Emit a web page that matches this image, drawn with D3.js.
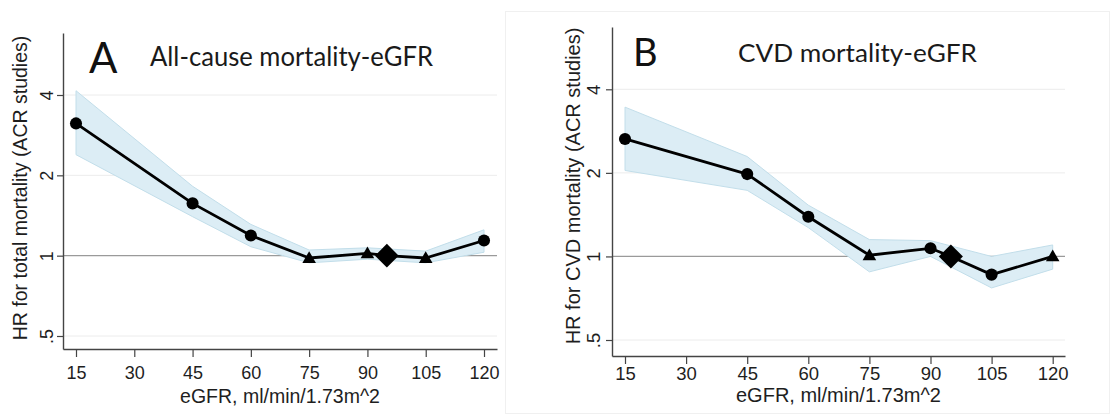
<!DOCTYPE html>
<html>
<head>
<meta charset="utf-8">
<script src="https://cdn.jsdelivr.net/npm/d3@7"></script>
<style>
  body { margin: 0; background: #fff; }
  svg { display: block; }
</style>
</head>
<body>
<svg id="chart" width="1110" height="414"></svg>
<script>
// 数据：eGFR 取值点（95 为参照点）
const egfr = [15, 45, 60, 75, 90, 95, 105, 120];
const ref_egfr = 95;

// A：全因死亡
const hr_A = [3.13, 1.57, 1.19, 0.98, 1.02, 1, 0.98, 1.14];
const lo_A = [2.39, 1.40, 1.08, 0.94, 0.97, 1, 0.94, 1.03];
const hi_A = [4.15, 1.82, 1.31, 1.05, 1.07, 1, 1.04, 1.25];
const marker_A = ["c", "c", "c", "t", "t", "d", "t", "c"];

// B：CVD 死亡
const hr_B = [2.65, 1.98, 1.39, 1.01, 1.07, 1, 0.86, 1.00];
const lo_B = [2.04, 1.73, 1.27, 0.88, 1.00, 1, 0.77, 0.90];
const hi_B = [3.45, 2.29, 1.53, 1.15, 1.14, 1, 1.00, 1.10];
const marker_B = ["c", "c", "c", "t", "c", "d", "c", "t"];

const x_ticks = [15, 30, 45, 60, 75, 90, 105, 120];
const y_ticks = [0.5, 1, 2, 4];
const y_tick_labels = [".5", "1", "2", "4"];
const x_title = "eGFR, ml/min/1.73m^2";

const svg = d3.select("#chart");

//构建比例尺：先按刻度位置定好，再延伸到坐标轴两端
function make_Scales(P) {
  const xScale = d3.scaleLinear().domain([15, 120]).range([P.x15, P.x120]);
  xScale.domain([xScale.invert(P.left), xScale.invert(P.right)]).range([P.left, P.right]);
  const yScale = d3.scaleLog().domain([0.5, 4]).range([P.y05, P.y4]);
  yScale.domain([yScale.invert(P.bottom), yScale.invert(P.top)]).range([P.bottom, P.top]);
  return [xScale, yScale];
}

//网格线和 HR=1 参考线
function draw_Grid(g, xScale, yScale) {
  const [x0, x1] = xScale.range();
  g.selectAll(".grid")
    .data(y_ticks)
    .enter()
    .append("line")
    .attr("class", "grid")
    .attr("x1", x0)
    .attr("x2", x1)
    .attr("y1", d => yScale(d))
    .attr("y2", d => yScale(d))
    .style("stroke", d => d === 1 ? "#9a9a9a" : "#ececec")
    .style("stroke-width", d => d === 1 ? 1.2 : 1);
}

//坐标轴
function draw_Axis(g, xScale, yScale, P) {
  const xAxis = d3.axisBottom(xScale)
    .tickValues(x_ticks)
    .tickSizeOuter(0)
    .tickSizeInner(8)
    .tickPadding(4);
  const yAxis = d3.axisLeft(yScale)
    .tickValues(y_ticks)
    .tickFormat((d, i) => y_tick_labels[i])
    .tickSizeOuter(0)
    .tickSizeInner(6);

  const gx = g.append("g")
    .attr("transform", `translate(0, ${P.bottom})`)
    .call(xAxis);
  gx.selectAll("text")
    .attr("y", null)
    .attr("dy", null)
    .attr("transform", `translate(0, ${P.xlab_y - P.bottom})`)
    .style("font-family", "'Liberation Sans', Arial, sans-serif")
    .style("font-size", P.tick_font + "px")
    .style("fill", "#1e1e1e");

  const gy = g.append("g")
    .attr("transform", `translate(${P.left}, 0)`)
    .call(yAxis);
  gy.selectAll("text")
    .attr("x", null)
    .attr("dy", null)
    .attr("text-anchor", "middle")
    .attr("transform", `translate(${P.ylab_x - P.left}, 0) rotate(-90)`)
    .style("font-family", "'Liberation Sans', Arial, sans-serif")
    .style("font-size", P.tick_font + "px")
    .style("fill", "#1e1e1e");

  g.selectAll(".domain").style("stroke", "#444").style("stroke-width", 1.4);
  g.selectAll(".tick line").style("stroke", "#444").style("stroke-width", 1.2);
}

//标题与坐标轴名称
function draw_Labels(g, P, xScale, yScale) {
  g.append("text")
    .attr("x", P.letter_x)
    .attr("y", P.letter_y)
    .text(P.letter)
    .style("font-family", "Lato, 'Open Sans', sans-serif")
    .style("font-size", P.letter_font + "px")
    .style("fill", "#111");

  g.append("text")
    .attr("x", P.title_x)
    .attr("y", P.title_y)
    .attr("textLength", P.title_len)
    .attr("lengthAdjust", "spacingAndGlyphs")
    .text(P.title)
    .style("font-family", "Lato, 'Open Sans', sans-serif")
    .style("font-size", P.title_font + "px")
    .style("fill", "#1a1a1a");

  const [x0, x1] = xScale.range();
  g.append("text")
    .attr("x", (x0 + x1) / 2)
    .attr("y", P.xtitle_y)
    .attr("text-anchor", "middle")
    .text(x_title)
    .style("font-family", "'Liberation Sans', Arial, sans-serif")
    .style("font-size", P.axis_font + "px")
    .style("fill", "#1e1e1e");

  g.append("text")
    .attr("transform", `translate(${P.ytitle_x}, ${P.ytitle_y}) rotate(-90)`)
    .attr("text-anchor", "middle")
    .text(P.ytitle)
    .style("font-family", "'Liberation Sans', Arial, sans-serif")
    .style("font-size", P.axis_font + "px")
    .style("fill", "#1e1e1e");
}

//置信区间、折线和标记点
function draw_Series(g, xScale, yScale, hr, lo, hi, marker, P) {
  const pts = egfr.map((e, i) => ({ e: e, hr: hr[i], lo: lo[i], hi: hi[i], m: marker[i] }));
  const band_pts = pts.filter(d => d.e !== ref_egfr);

  const area = d3.area()
    .x(d => xScale(d.e))
    .y0(d => yScale(d.lo))
    .y1(d => yScale(d.hi));
  g.append("path")
    .datum(band_pts)
    .attr("d", area)
    .style("fill", "#dcedf5")
    .style("stroke", "#c2deea")
    .style("stroke-width", 1);

  const line = d3.line()
    .x(d => xScale(d.e))
    .y(d => yScale(d.hr));
  g.append("path")
    .datum(pts)
    .attr("d", line)
    .style("fill", "none")
    .style("stroke", "#000")
    .style("stroke-width", 2.8)
    .style("stroke-linejoin", "round");

  const sym = { c: d3.symbolCircle, t: d3.symbolTriangle, d: d3.symbolSquare };
  const size = { c: 115, t: 80, d: P.diamond };
  g.selectAll(".mk")
    .data(pts)
    .enter()
    .append("path")
    .attr("class", "mk")
    .attr("transform", d => `translate(${xScale(d.e)}, ${yScale(d.hr) + (d.m === "t" ? 1 : 0)}) rotate(${d.m === "d" ? 45 : 0})`)
    .attr("d", d => d3.symbol().type(sym[d.m]).size(size[d.m])())
    .style("fill", "#000");
}

function draw_Panel(P, hr, lo, hi, marker) {
  const g = svg.append("g");
  const [xScale, yScale] = make_Scales(P);
  draw_Grid(g, xScale, yScale);
  draw_Series(g, xScale, yScale, hr, lo, hi, marker, P);
  draw_Axis(g, xScale, yScale, P);
  draw_Labels(g, P, xScale, yScale);
}

// 面板 B 外框（原图是拼接的两张图）
svg.append("rect")
  .attr("x", 505.5).attr("y", 11.5)
  .attr("width", 604).attr("height", 402)
  .style("fill", "none")
  .style("stroke", "#f0f0f0");

const PANEL_A = {
  left: 63, right: 497, top: 33, bottom: 349,
  x15: 76, x120: 484, y05: 336, y4: 95,
  xlab_y: 379, ylab_x: 53, tick_font: 18, axis_font: 19.5,
  xtitle_y: 403, ytitle_x: 27, ytitle_y: 188,
  ytitle: "HR for total mortality (ACR studies)",
  letter: "A", letter_x: 89, letter_y: 73, letter_font: 42,
  title: "All-cause mortality-eGFR", title_x: 150, title_y: 66, title_len: 283, title_font: 26,
  diamond: 280
};
const PANEL_B = {
  left: 612, right: 1065, top: 27, bottom: 356,
  x15: 625, x120: 1052.7, y05: 340, y4: 89.3,
  xlab_y: 380, ylab_x: 600, tick_font: 18.5, axis_font: 20,
  xtitle_y: 402, ytitle_x: 580, ytitle_y: 186,
  ytitle: "HR for CVD mortality (ACR studies)",
  letter: "B", letter_x: 633, letter_y: 66, letter_font: 38,
  title: "CVD mortality-eGFR", title_x: 738, title_y: 62, title_len: 239, title_font: 25,
  diamond: 290
};

draw_Panel(PANEL_A, hr_A, lo_A, hi_A, marker_A);
draw_Panel(PANEL_B, hr_B, lo_B, hi_B, marker_B);
</script>
</body>
</html>
